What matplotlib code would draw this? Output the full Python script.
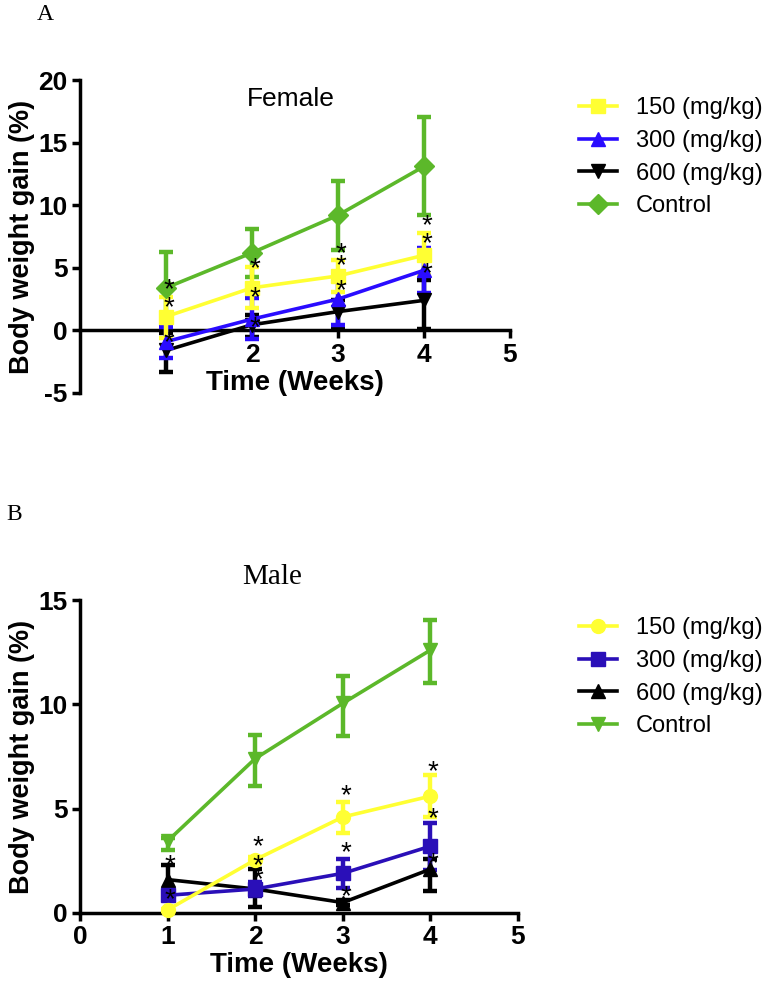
import matplotlib
matplotlib.use("Agg")
import matplotlib.pyplot as plt
import numpy as np

plt.rcParams['font.family'] = ['Liberation Sans', 'DejaVu Sans']
plt.rcParams['axes.unicode_minus'] = False

weeks = [1, 2, 3, 4]
labels = ['150 (mg/kg)', '300 (mg/kg)', '600 (mg/kg)', 'Control']

# Panel A - Female (mean, upper end of error bar, lower end)
fem_mean = {
    '150 (mg/kg)': [1.1, 3.4, 4.35, 6.0],
    '300 (mg/kg)': [-0.9, 0.9, 2.5, 4.8],
    '600 (mg/kg)': [-1.6, 0.45, 1.5, 2.4],
    'Control': [3.4, 6.2, 9.2, 13.1],
}
fem_upper = {
    '150 (mg/kg)': [2.7, 5.1, 5.6, 7.75],
    '300 (mg/kg)': [0.3, 2.6, 4.4, 6.6],
    '600 (mg/kg)': [-0.2, 1.25, 2.4, 4.0],
    'Control': [6.3, 8.1, 11.95, 17.05],
}
fem_lower = {
    '150 (mg/kg)': [-0.6, 1.8, 3.1, 4.4],
    '300 (mg/kg)': [-2.2, -0.7, 0.45, 3.0],
    '600 (mg/kg)': [-3.35, -0.5, 0.3, 0.1],
    'Control': [0.5, 4.3, 6.4, 9.2],
}
fem_star_x = [1, 1, 1, 2, 2, 2, 3, 3, 3, 4, 4, 4]
fem_star_y = [3.5, 2.05, -0.75, 5.1, 2.85, 0.45, 6.3, 5.4, 3.4, 8.55, 7.1, 4.7]

# Panel B - Male
male_mean = {
    '150 (mg/kg)': [0.15, 2.55, 4.6, 5.6],
    '300 (mg/kg)': [0.85, 1.15, 1.9, 3.2],
    '600 (mg/kg)': [1.6, 1.15, 0.5, 2.1],
    'Control': [3.45, 7.4, 10.05, 12.6],
}
male_upper = {
    '150 (mg/kg)': [0.2, 2.7, 5.3, 6.6],
    '300 (mg/kg)': [1.0, 1.5, 2.6, 4.3],
    '600 (mg/kg)': [2.3, 2.1, 0.6, 2.6],
    'Control': [3.6, 8.55, 11.35, 14.05],
}
male_lower = {
    '150 (mg/kg)': [0.1, 2.4, 3.85, 4.6],
    '300 (mg/kg)': [0.7, 0.8, 1.2, 2.05],
    '600 (mg/kg)': [0.9, 0.3, 0.4, 1.05],
    'Control': [3.0, 6.1, 8.5, 11.0],
}
male_star_x = [1, 1, 2, 2, 2, 3, 3, 3, 4, 4, 4]
male_star_y = [2.5, 0.85, 3.4, 2.5, 1.8, 5.85, 3.1, 1.0, 7.0, 4.75, 2.6]

fem_style = {
    '150 (mg/kg)': ('#ffff33', 's'),
    '300 (mg/kg)': ('#2a0cff', '^'),
    '600 (mg/kg)': ('#000000', 'v'),
    'Control': ('#5cb82a', 'D'),
}
male_style = {
    '150 (mg/kg)': ('#ffff33', 'o'),
    '300 (mg/kg)': ('#2a0fb8', 's'),
    '600 (mg/kg)': ('#000000', '^'),
    'Control': ('#5cb82a', 'v'),
}

W, H = 767, 990
fig = plt.figure(figsize=(W / 100, H / 100), dpi=100)
serif = ['Liberation Serif', 'DejaVu Serif']


def make_axes(left, right, top, bottom):
    return fig.add_axes([left / W, 1 - bottom / H, (right - left) / W, (bottom - top) / H])


def draw_panel(ax, mean, upper, lower, style, star_x, star_y, ylim, yticks,
               xticks, xticklabels, legend_top):
    handles = []
    order = ['Control', '600 (mg/kg)', '300 (mg/kg)', '150 (mg/kg)']
    for name in order:
        color, marker = style[name]
        m = np.array(mean[name])
        err = [m - np.array(lower[name]), np.array(upper[name]) - m]
        ax.errorbar(weeks, m, yerr=err, color=color, marker=marker, ms=10,
                    lw=2.6, elinewidth=3.2, capsize=5, capthick=3.2,
                    zorder=3, clip_on=False)
    for name in labels:
        color, marker = style[name]
        h, = ax.plot([], [], color=color, marker=marker, ms=10, lw=2.6)
        handles.append(h)
    for sx, sy in zip(star_x, star_y):
        ax.text(sx + 0.03, sy - 0.25, '*', fontsize=20, ha='center', va='center',
                color='black', zorder=5)

    ax.set_xlim(0, 5)
    ax.set_ylim(*ylim)
    ax.set_yticks(yticks)
    ax.set_xticks(xticks)
    ax.set_xticklabels(xticklabels)
    ax.spines['top'].set_visible(False)
    ax.spines['right'].set_visible(False)
    ax.spines['bottom'].set_position(('data', 0))
    ax.spines['left'].set_linewidth(2.5)
    ax.spines['bottom'].set_linewidth(2.5)
    ax.tick_params(width=2.5, length=6, labelsize=19, direction='out', pad=3)
    for t in ax.get_xticklabels() + ax.get_yticklabels():
        t.set_fontweight('bold')
    ax.set_ylabel('Body weight gain (%)', fontsize=19.5, fontweight='bold', labelpad=2)
    ax.set_xlabel('Time (Weeks)', fontsize=20, fontweight='bold', labelpad=2)

    fig.legend(handles, labels, loc='upper left',
               bbox_to_anchor=(570 / W, 1 - legend_top / H),
               frameon=False, fontsize=17, handlelength=1.6, handletextpad=0.8,
               labelspacing=0.45, borderaxespad=0)


axA = make_axes(80, 510, 80, 393)
draw_panel(axA, fem_mean, fem_upper, fem_lower, fem_style, fem_star_x, fem_star_y,
           (-5, 20), [-5, 0, 5, 10, 15, 20], [1, 2, 3, 4, 5],
           ['', '2', '3', '4', '5'], 88)

axB = make_axes(80, 518, 600, 913)
draw_panel(axB, male_mean, male_upper, male_lower, male_style, male_star_x, male_star_y,
           (0, 15), [0, 5, 10, 15], [0, 1, 2, 3, 4, 5],
           ['0', '1', '2', '3', '4', '5'], 608)

fig.text(291 / W, 1 - 99 / H, 'Female', fontsize=19, ha='center', va='center')
fig.text(272 / W, 1 - 577 / H, 'Male', fontsize=21, ha='center', va='center',
         family=serif)
fig.text(45 / W, 1 - 14 / H, 'A', fontsize=17, ha='center', va='center', family=serif)
fig.text(14 / W, 1 - 515 / H, 'B', fontsize=17, ha='center', va='center', family=serif)

fig.savefig('out.png', dpi=100)
